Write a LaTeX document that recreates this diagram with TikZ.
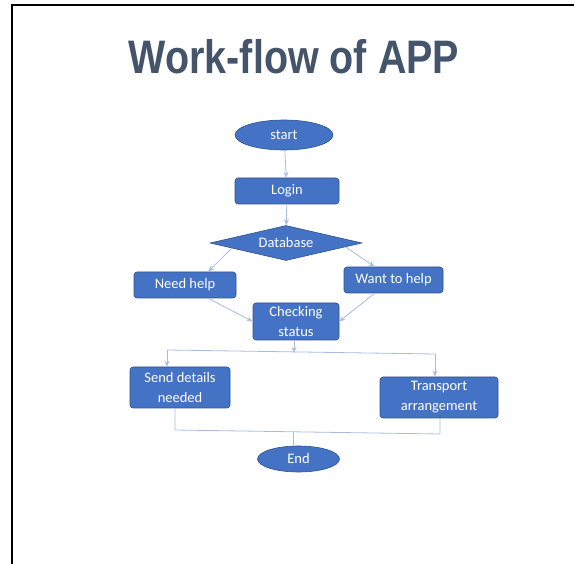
\documentclass[tikz,border=0pt]{standalone}
\usepackage{fontspec}
\setmainfont{Carlito}
\newfontfamily\titlefont{Liberation Sans Bold}
\usetikzlibrary{shapes.geometric,arrows.meta,calc}
\definecolor{boxfill}{HTML}{4472C4}
\definecolor{boxline}{HTML}{2F528F}
\definecolor{conn}{HTML}{A9BCDF}
\definecolor{titlecol}{HTML}{44546A}
\tikzset{
  proc/.style={rectangle, rounded corners=3pt, fill=boxfill, draw=boxline, line width=0.6pt,
    text=white, font=\fontsize{14.5}{20}\selectfont, align=center, inner sep=0pt},
  term/.style={ellipse, fill=boxfill, draw=boxline, line width=0.6pt, text=white,
    font=\fontsize{14.5}{20}\selectfont, inner sep=0pt},
  dec/.style={diamond, fill=boxfill, draw=boxline, line width=0.6pt, text=white,
    font=\fontsize{14.5}{20}\selectfont, inner sep=0pt, aspect=4.3},
  link/.style={draw=conn, line width=0.8pt},
  arr/.style={link, -{Stealth[length=6pt,width=5pt,open]}}
}
\begin{document}
\begin{tikzpicture}[x=1pt,y=-1pt]
\useasboundingbox (0,0) rectangle (574,564);
\draw[line width=2pt] (12,564) -- (12,5) -- (575,5);
\node[text=titlecol, font=\titlefont\fontsize{47}{50}\selectfont] (title) at (294,57) {\scalebox{0.84}[1]{Work-flow of APP}};
\node[term, minimum width=98pt, minimum height=30pt] (start) at (284,135) {start};
\node[proc, minimum width=104pt, minimum height=26pt] (login) at (287,191) {Login};
\node[dec, minimum width=152pt, minimum height=35pt] (db) at (286,243) {Database};
\node[proc, minimum width=102pt, minimum height=26pt] (need) at (185,285) {Need help};
\node[proc, minimum width=99pt, minimum height=26pt] (want) at (393.5,280) {Want to help};
\node[proc, minimum width=86pt, minimum height=37pt] (chk) at (296,321.5) {Checking\\status};
\node[proc, minimum width=100pt, minimum height=41pt] (send) at (180,387.5) {Send details\\needed};
\node[proc, minimum width=118pt, minimum height=41pt] (trans) at (439,397.5) {Transport\\arrangement};
\node[term, minimum width=82pt, minimum height=26pt] (end) at (298.5,459) {End};
\coordinate (split) at (294,353);
\coordinate (sl) at (167,350);
\coordinate (sr) at (435,354);
\coordinate (jl) at (175,430);
\coordinate (jr) at (440,434);
\coordinate (jm) at (293,432);
\draw[arr] (start) -- (login);
\draw[arr] (login) -- (db);
\draw[arr] ($(db.west)!0.29!(db.south)$) -- ($(need.north)!0.45!(need.north east)$);
\draw[arr] ($(db.east)!0.22!(db.south)$) -- ($(want.north)!0.38!(want.north west)$);
\draw[arr] ($(need.south)!0.45!(need.south east)$) -- (chk.west);
\draw[arr] ($(want.south)!0.38!(want.south west)$) -- (chk.east);
\draw[arr] (chk.south -| split) -- (split);
\draw[link] (sl) -- (sr);
\draw[arr] (sl) -- (send.north -| sl);
\draw[arr] (sr) -- (trans.north -| sr);
\draw[link] (send.south -| jl) -- (jl) -- (jr) -- (trans.south -| jr);
\draw[link] (jm) -- (end.north -| jm);
\end{tikzpicture}
\end{document}
